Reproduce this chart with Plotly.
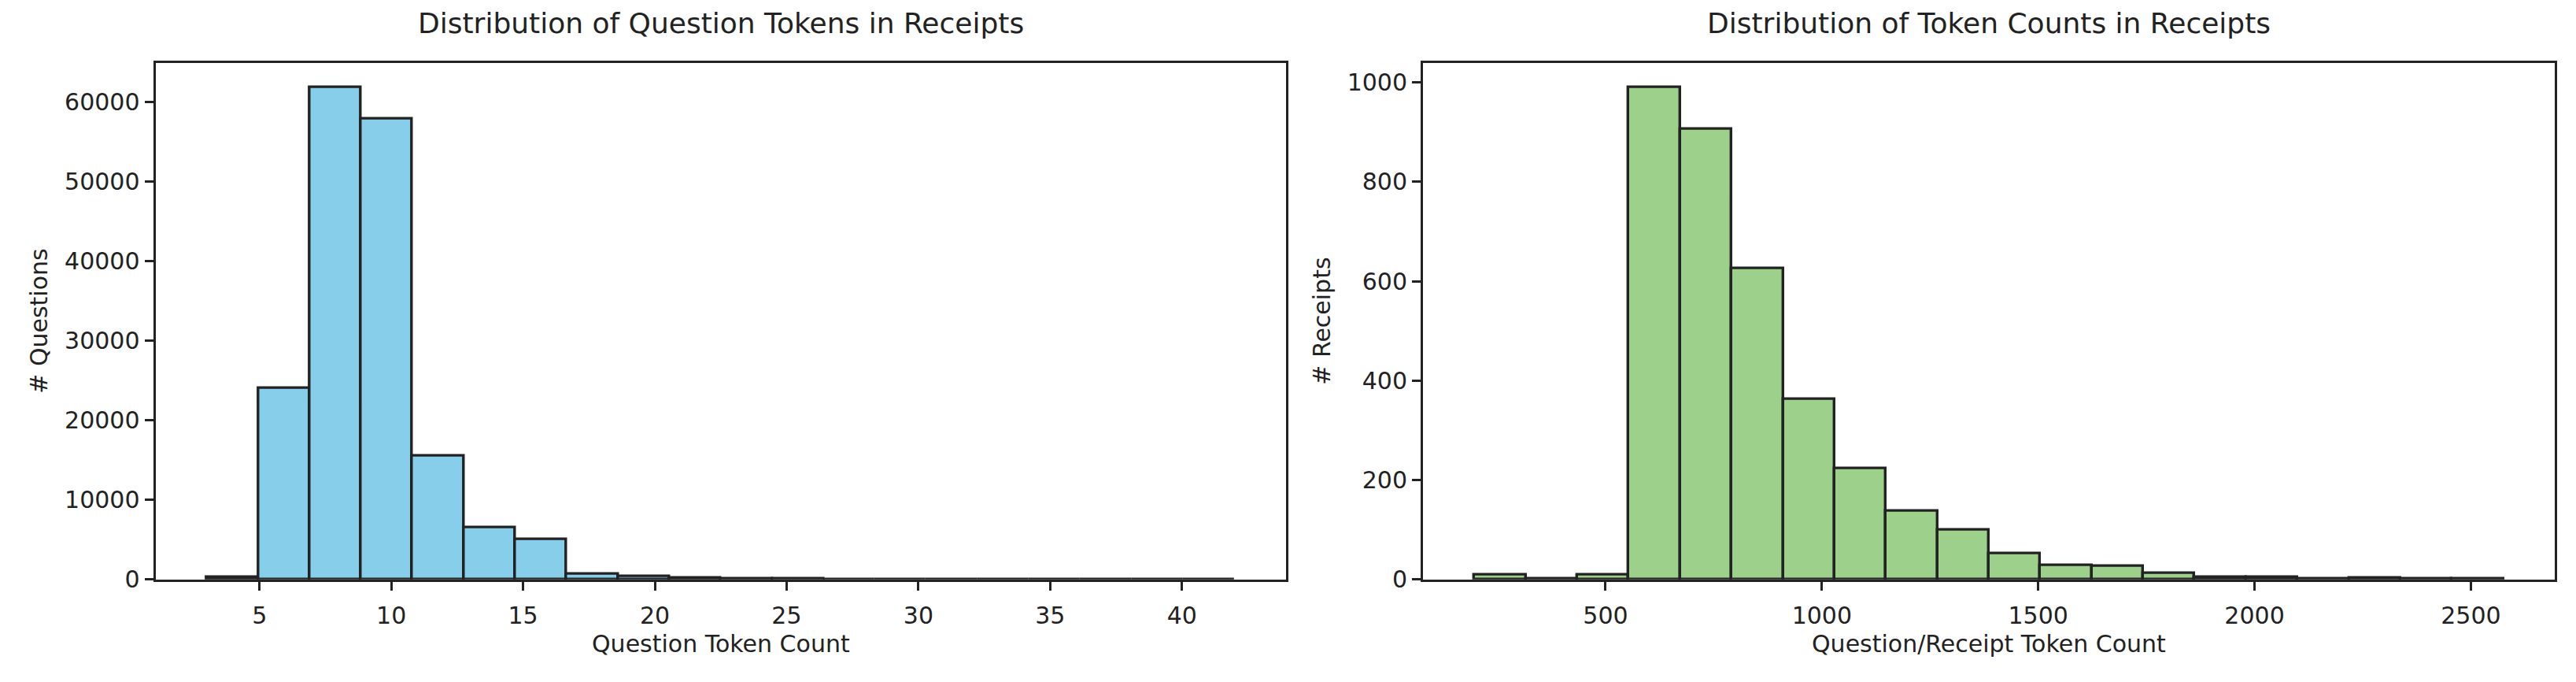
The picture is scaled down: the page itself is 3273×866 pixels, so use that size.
import plotly.graph_objects as go

W, H = 3273, 866

# ---- data ----
q_min, q_max, q_bins = 3.0, 42.0, 20
q_counts = [300, 24000, 61800, 57900, 15500, 6550, 5050, 700, 380, 220,
            130, 60, 35, 20, 15, 10, 8, 5, 4, 3]

r_min, r_max, r_bins = 197.0, 2575.0, 20
r_counts = [10, 2, 10, 990, 906, 626, 363, 224, 138, 100,
            52, 29, 27, 12, 4, 5, 1, 3, 1, 1]

left_xticks = [5, 10, 15, 20, 25, 30, 35, 40]
left_yticks = [0, 10000, 20000, 30000, 40000, 50000, 60000]
right_xticks = [500, 1000, 1500, 2000, 2500]
right_yticks = [0, 200, 400, 600, 800, 1000]

titles = ["Distribution of Question Tokens in Receipts",
          "Distribution of Token Counts in Receipts"]
xlabels = ["Question Token Count", "Question/Receipt Token Count"]
ylabels = ["# Questions", "# Receipts"]

BLUE = "#87CEEB"
GREEN = "#9DD08B"
EDGE = "#222222"
FONT = "DejaVu Sans"


def bins(lo, hi, n):
    w = (hi - lo) / n
    centers = [lo + w * (i + 0.5) for i in range(n)]
    return centers, w


qc, qw = bins(q_min, q_max, q_bins)
rc, rw = bins(r_min, r_max, r_bins)

fig = go.Figure()
fig.add_trace(go.Bar(x=qc, y=q_counts, width=[qw] * q_bins,
                     marker=dict(color=BLUE, line=dict(color=EDGE, width=3.4)),
                     xaxis="x", yaxis="y", showlegend=False))
fig.add_trace(go.Bar(x=rc, y=r_counts, width=[rw] * r_bins,
                     marker=dict(color=GREEN, line=dict(color=EDGE, width=3.4)),
                     xaxis="x2", yaxis="y2", showlegend=False))

# plot areas in px
L = (189.5, 1626.0)
R = (1800.0, 3238.0)
top, bottom = 73.3, 742.3
ydom = [(H - bottom) / H, (H - top) / H]

axis_common = dict(showline=True, linecolor=EDGE, linewidth=3, mirror=True,
                   ticks="outside", ticklen=11, tickwidth=3, tickcolor=EDGE,
                   showgrid=False, zeroline=False,
                   tickfont=dict(family=FONT, size=30, color=EDGE))

q_span = q_max - q_min
r_span = r_max - r_min
fig.update_layout(
    width=W, height=H,
    margin=dict(l=0, r=0, t=0, b=0),
    paper_bgcolor="white", plot_bgcolor="white",
    bargap=0,
    xaxis=dict(domain=[L[0] / W, L[1] / W], anchor="y",
               range=[q_min - 0.05 * q_span, q_max + 0.05 * q_span],
               tickvals=left_xticks, ticklabelstandoff=6, **axis_common),
    yaxis=dict(domain=ydom, anchor="x",
               range=[0, max(q_counts) * 1.05],
               tickvals=left_yticks, tickformat="d", **axis_common),
    xaxis2=dict(domain=[R[0] / W, R[1] / W], anchor="y2",
                range=[r_min - 0.05 * r_span, r_max + 0.05 * r_span],
                tickvals=right_xticks, ticklabelstandoff=6, **axis_common),
    yaxis2=dict(domain=ydom, anchor="x2",
                range=[0, max(r_counts) * 1.05],
                tickvals=right_yticks, tickformat="d", **axis_common),
)

ann = []
for (a, b), t, xl, yl, ylx in [(L, titles[0], xlabels[0], ylabels[0], 42),
                               (R, titles[1], xlabels[1], ylabels[1], 1672)]:
    cx = (a + b) / 2 / W
    ann.append(dict(text=t, x=cx, y=1 - 22 / H, xref="paper", yref="paper",
                    showarrow=False, xanchor="center", yanchor="middle",
                    font=dict(family=FONT, size=36, color=EDGE)))
    ann.append(dict(text=xl, x=cx, y=1 - 826 / H, xref="paper", yref="paper",
                    showarrow=False, xanchor="center", yanchor="middle",
                    font=dict(family=FONT, size=30, color=EDGE)))
    ann.append(dict(text=yl, x=ylx / W, y=1 - (top + bottom) / 2 / H,
                    xref="paper", yref="paper", textangle=-90,
                    showarrow=False, xanchor="center", yanchor="middle",
                    font=dict(family=FONT, size=30, color=EDGE)))
fig.update_layout(annotations=ann)

fig.write_html("out.html")
